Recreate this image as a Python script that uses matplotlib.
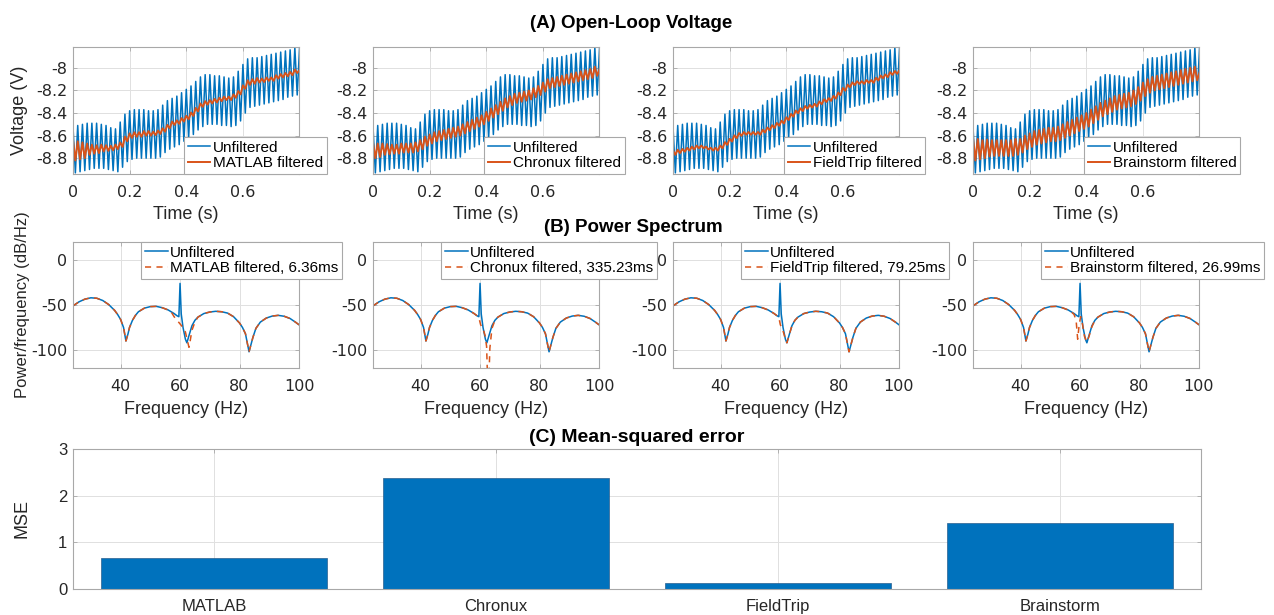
import matplotlib
matplotlib.use('Agg')
import matplotlib.pyplot as plt
import numpy as np

plt.rcParams['font.family'] = ['Liberation Sans', 'DejaVu Sans']
plt.rcParams['axes.unicode_minus'] = False

blue = '#0072BD'
orange = '#D95319'
methods = ['MATLAB', 'Chronux', 'FieldTrip', 'Brainstorm']
timings = ['6.36ms', '335.23ms', '79.25ms', '26.99ms']
mse = [0.67, 2.38, 0.12, 1.41]

# unfiltered voltage: 60 Hz peaks (at k/60 s) and troughs (half a cycle later)
unfilt_hi = [-8.52, -8.51, -8.50, -8.49, -8.49, -8.49, -8.50, -8.51, -8.53, -8.54,
             -8.48, -8.41, -8.38, -8.37, -8.37, -8.37, -8.38, -8.38, -8.37, -8.33,
             -8.29, -8.27, -8.25, -8.22, -8.19, -8.16, -8.12, -8.08, -8.06, -8.06,
             -8.07, -8.07, -8.08, -8.09, -8.08, -8.03, -7.97, -7.92, -7.91, -7.91,
             -7.90, -7.89, -7.88, -7.87, -7.86, -7.85, -7.84, -7.82, -7.82]
unfilt_lo = [-8.93, -8.92, -8.91, -8.90, -8.89, -8.89, -8.89, -8.90, -8.91, -8.92,
             -8.88, -8.83, -8.81, -8.80, -8.80, -8.80, -8.80, -8.80, -8.79, -8.75,
             -8.72, -8.70, -8.68, -8.65, -8.62, -8.59, -8.55, -8.52, -8.50, -8.50,
             -8.50, -8.51, -8.51, -8.52, -8.51, -8.47, -8.40, -8.35, -8.34, -8.33,
             -8.32, -8.31, -8.30, -8.29, -8.28, -8.26, -8.25, -8.24]

# filtered traces: centre line and residual ripple half-height per 60 Hz cycle
matlab_mid = [-8.73, -8.73, -8.73, -8.72, -8.72, -8.72, -8.71, -8.71, -8.71, -8.70,
              -8.68, -8.63, -8.60, -8.59, -8.59, -8.58, -8.58, -8.58, -8.57, -8.55,
              -8.52, -8.49, -8.48, -8.46, -8.44, -8.41, -8.37, -8.33, -8.31, -8.30,
              -8.29, -8.28, -8.27, -8.27, -8.25, -8.22, -8.17, -8.13, -8.12, -8.11,
              -8.11, -8.10, -8.10, -8.08, -8.07, -8.06, -8.05, -8.03, -8.02]
matlab_swing = [0.09, 0.08, 0.07, 0.05, 0.04, 0.035, 0.03, 0.025, 0.02, 0.02,
                0.02, 0.02, 0.02, 0.02, 0.02, 0.02, 0.02, 0.015, 0.015, 0.015,
                0.015, 0.015, 0.015, 0.015, 0.015, 0.015, 0.015, 0.015, 0.015, 0.015,
                0.015, 0.015, 0.015, 0.015, 0.015, 0.015, 0.015, 0.02, 0.02, 0.02,
                0.015, 0.015, 0.015, 0.015, 0.015, 0.015, 0.015, 0.015, 0.0]
chronux_mid = [-8.73, -8.73, -8.72, -8.72, -8.72, -8.72, -8.71, -8.71, -8.71, -8.70,
               -8.68, -8.65, -8.63, -8.61, -8.60, -8.59, -8.58, -8.57, -8.56, -8.54,
               -8.52, -8.50, -8.48, -8.46, -8.43, -8.40, -8.37, -8.34, -8.31, -8.29,
               -8.27, -8.26, -8.25, -8.24, -8.22, -8.20, -8.17, -8.14, -8.13, -8.12,
               -8.11, -8.10, -8.09, -8.08, -8.07, -8.06, -8.05, -8.03, -8.01]
chronux_swing = [0.07, 0.06, 0.05, 0.045, 0.04, 0.04, 0.04, 0.04, 0.04, 0.04,
                 0.04, 0.04, 0.04, 0.04, 0.04, 0.04, 0.04, 0.04, 0.04, 0.04,
                 0.04, 0.04, 0.04, 0.04, 0.04, 0.04, 0.04, 0.04, 0.04, 0.04,
                 0.04, 0.04, 0.04, 0.04, 0.04, 0.04, 0.04, 0.04, 0.04, 0.04,
                 0.04, 0.04, 0.04, 0.04, 0.04, 0.04, 0.04, 0.04, 0.0]
fieldtrip_mid = [-8.75, -8.74, -8.73, -8.72, -8.71, -8.70, -8.70, -8.71, -8.72, -8.72,
                 -8.70, -8.67, -8.64, -8.61, -8.59, -8.58, -8.58, -8.58, -8.58, -8.56,
                 -8.54, -8.52, -8.50, -8.48, -8.45, -8.42, -8.39, -8.37, -8.35, -8.34,
                 -8.33, -8.31, -8.29, -8.28, -8.26, -8.23, -8.19, -8.16, -8.14, -8.13,
                 -8.13, -8.12, -8.12, -8.10, -8.08, -8.07, -8.05, -8.04, -8.02]
fieldtrip_swing = [0.02, 0.015, 0.012, 0.012, 0.012, 0.012, 0.012, 0.012, 0.012, 0.012,
                   0.012, 0.012, 0.012, 0.012, 0.012, 0.012, 0.012, 0.012, 0.012, 0.012,
                   0.012, 0.012, 0.012, 0.012, 0.012, 0.012, 0.012, 0.012, 0.012, 0.012,
                   0.012, 0.012, 0.012, 0.012, 0.012, 0.012, 0.012, 0.012, 0.012, 0.012,
                   0.012, 0.012, 0.012, 0.012, 0.012, 0.012, 0.012, 0.012, 0.0]
brainstorm_mid = [-8.72, -8.72, -8.72, -8.71, -8.71, -8.71, -8.71, -8.71, -8.71, -8.70,
                  -8.69, -8.66, -8.64, -8.62, -8.61, -8.60, -8.59, -8.59, -8.58, -8.56,
                  -8.54, -8.52, -8.50, -8.48, -8.46, -8.43, -8.40, -8.37, -8.35, -8.33,
                  -8.31, -8.30, -8.29, -8.28, -8.26, -8.23, -8.19, -8.16, -8.14, -8.13,
                  -8.12, -8.11, -8.10, -8.09, -8.08, -8.07, -8.06, -8.05, -8.04]
brainstorm_swing = [0.10, 0.09, 0.08, 0.075, 0.07, 0.07, 0.07, 0.07, 0.07, 0.07,
                    0.06, 0.06, 0.06, 0.06, 0.06, 0.06, 0.06, 0.06, 0.06, 0.06,
                    0.06, 0.06, 0.06, 0.06, 0.06, 0.06, 0.06, 0.06, 0.06, 0.06,
                    0.06, 0.06, 0.06, 0.06, 0.06, 0.06, 0.06, 0.06, 0.06, 0.06,
                    0.06, 0.06, 0.06, 0.06, 0.06, 0.06, 0.06, 0.06, 0.0]

# power spectrum (dB/Hz)
spec_freq = [24, 26, 28, 30, 32, 34, 36, 38, 39, 40,
             41, 41.8, 42.5, 43, 44, 45, 46, 48, 50, 52,
             54, 56, 58, 59, 59.6, 60, 60.4, 61, 61.8, 62.3,
             63, 64, 65, 66, 68, 70, 72, 74, 76, 78,
             80, 81, 82, 83.2, 84.5, 85.5, 87, 89, 91, 93,
             95, 97, 99, 100]
spec_unfilt = [-51, -46.5, -43.5, -42, -42.5, -45, -49.5, -56, -60.5, -66,
               -75, -90, -82, -75, -67, -61.5, -57.5, -53.5, -51.8, -51.5,
               -53, -55.5, -59.5, -62, -63, -26, -60, -75, -88, -92,
               -84, -73, -67, -63.5, -59.5, -57.8, -57, -57.5, -59, -63,
               -70, -75, -82, -102, -86, -76, -69, -64.5, -62.3, -61.5,
               -62.5, -65, -69.5, -72]
# filtered spectra differ from the unfiltered one only around 60 Hz
seg_freq = {
    'MATLAB': [57, 58, 59, 60, 61, 61.8, 62.5, 63, 63.4, 64, 65],
    'Chronux': [57, 58, 59, 59.6, 60.2, 61, 61.7, 62.2, 62.6, 62.9, 63.3, 64, 65],
    'FieldTrip': [57, 58, 59, 59.6, 60.1, 60.6, 61.2, 61.8, 62.3, 63, 64, 65],
    'Brainstorm': [57, 58, 58.7, 59.2, 59.7, 60.2, 60.8, 61.5, 62.3, 63, 64, 65],
}
seg_db = {
    'MATLAB': [-57.5, -63, -67, -71, -75, -80, -90, -97, -90, -78, -69],
    'Chronux': [-57.5, -59.5, -62, -64, -72, -76, -84, -96, -140, -140, -98, -76, -67],
    'FieldTrip': [-57.5, -59.5, -62, -64, -72, -75, -81, -88, -92, -84, -73, -67],
    'Brainstorm': [-57.5, -60.5, -68, -88, -72, -63, -71, -85, -91, -85, -74, -67],
}

mids = [matlab_mid, chronux_mid, fieldtrip_mid, brainstorm_mid]
swings = [matlab_swing, chronux_swing, fieldtrip_swing, brainstorm_swing]

t = np.arange(97) / 120.0
unfilt = np.empty(97)
unfilt[0::2] = unfilt_hi
unfilt[1::2] = unfilt_lo

W, H = 1274, 615
fig = plt.figure(figsize=(W / 100, H / 100), dpi=100)


def px_axes(left, top, width, height):
    return fig.add_axes([left / W, 1 - (top + height) / H, width / W, height / H])


def style(ax, tickfont='DejaVu Sans', ticksize=11.5):
    ax.grid(True, color='#e0e0e0', lw=0.7)
    ax.set_axisbelow(True)
    for s in ax.spines.values():
        s.set_color('#a8a8a8')
        s.set_linewidth(0.8)
    ax.tick_params(direction='in', length=3, width=0.6, color='#a8a8a8',
                   labelcolor='#262626', top=True, right=True, labelsize=ticksize)
    for lab in ax.get_xticklabels() + ax.get_yticklabels():
        lab.set_family(tickfont)


leg_kw = dict(fontsize=11, frameon=True, fancybox=False, framealpha=1,
              edgecolor='#a8a8a8', borderaxespad=0, borderpad=0.25,
              labelspacing=0.1, handlelength=1.5, handletextpad=0.15)

# (A) voltage traces
for i, name in enumerate(methods):
    mid = np.array(mids[i])
    sw = np.array(swings[i])
    filt = np.empty(97)
    filt[0::2] = mid + sw
    filt[1::2] = (mid - sw)[:48]
    ax = px_axes(73 + 300 * i, 47, 226, 127)
    ax.plot(t, unfilt, color=blue, lw=1.1, label='Unfiltered')
    ax.plot(t, filt, color=orange, lw=1.4, label=name + ' filtered')
    ax.set_xlim(0, 0.798)
    ax.set_ylim(-8.94, -7.815)
    ax.set_xticks([0, 0.2, 0.4, 0.6])
    ax.set_xticklabels(['0', '0.2', '0.4', '0.6'])
    ax.set_yticks([-8.8, -8.6, -8.4, -8.2, -8])
    ax.set_yticklabels(['-8.8', '-8.6', '-8.4', '-8.2', '-8'])
    style(ax)
    ax.tick_params(axis='x', pad=8)
    ax.tick_params(axis='y', pad=4)
    ax.set_xlabel('Time (s)', fontsize=13, labelpad=4, color='#262626')
    if i == 0:
        ax.set_ylabel('Voltage (V)', fontsize=13, color='#262626')
        ax.yaxis.set_label_coords(-0.2, 0.5)
    leg = ax.legend(loc='lower left', bbox_to_anchor=(0.49, 0.0), **leg_kw)
    leg.get_frame().set_linewidth(0.8)

# (B) power spectra
sf = np.array(spec_freq)
su = np.array(spec_unfilt)
for i, name in enumerate(methods):
    fseg = np.array(seg_freq[name])
    dseg = np.array(seg_db[name])
    lo = sf < fseg[0]
    hi = sf > fseg[-1]
    ff = np.concatenate([sf[lo], fseg, sf[hi]])
    fd = np.concatenate([su[lo], dseg, su[hi]])
    ax = px_axes(73 + 300 * i, 242, 226, 126)
    ax.plot(sf, su, color=blue, lw=1.1, label='Unfiltered')
    ax.plot(ff, fd, color=orange, lw=1.1, ls=(0, (4, 3.5)),
            label=name + ' filtered, ' + timings[i])
    ax.set_xlim(24, 100)
    ax.set_ylim(-120, 20)
    ax.set_xticks([40, 60, 80, 100])
    ax.set_xticklabels(['40', '60', '80', '100'])
    ax.set_yticks([-100, -50, 0])
    ax.set_yticklabels(['-100', '-50', '0'])
    style(ax)
    ax.tick_params(axis='x', pad=8)
    ax.tick_params(axis='y', pad=4)
    ax.set_xlabel('Frequency (Hz)', fontsize=13, labelpad=5, color='#262626')
    if i == 0:
        ax.set_ylabel('Power/frequency (dB/Hz)', fontsize=12, color='#262626')
        ax.yaxis.set_label_coords(-0.19, 0.5)
    leg = ax.legend(loc='upper left', bbox_to_anchor=(0.3, 1.0), **leg_kw)
    leg.get_frame().set_linewidth(0.8)

# (C) mean-squared error
ax = px_axes(73, 449, 1128, 140)
pos = np.arange(1, len(methods) + 1)
ax.bar(pos, mse, width=0.8, color=blue, edgecolor='#2b5f8e', lw=0.5)
ax.set_xlim(0.5, 4.5)
ax.set_ylim(0, 3)
ax.set_xticks(pos)
ax.set_xticklabels(methods)
ax.set_yticks([0, 1, 2, 3])
ax.set_yticklabels(['0', '1', '2', '3'])
style(ax, tickfont='Liberation Sans', ticksize=12)
ax.tick_params(axis='x', pad=7)
ax.tick_params(axis='y', pad=4)
ax.set_ylabel('MSE', fontsize=13, color='#262626')
ax.yaxis.set_label_coords(-0.038, 0.5)

fig.text(0.495, 1 - 23 / H, '(A) Open-Loop Voltage', ha='center', va='center',
         fontsize=13.5, fontweight='bold')
fig.text(0.497, 1 - 228 / H, '(B) Power Spectrum', ha='center', va='center',
         fontsize=13.5, fontweight='bold')
fig.text(0.5, 1 - 437 / H, '(C) Mean-squared error', ha='center', va='center',
         fontsize=14, fontweight='bold')

fig.savefig('out.png', dpi=100)
